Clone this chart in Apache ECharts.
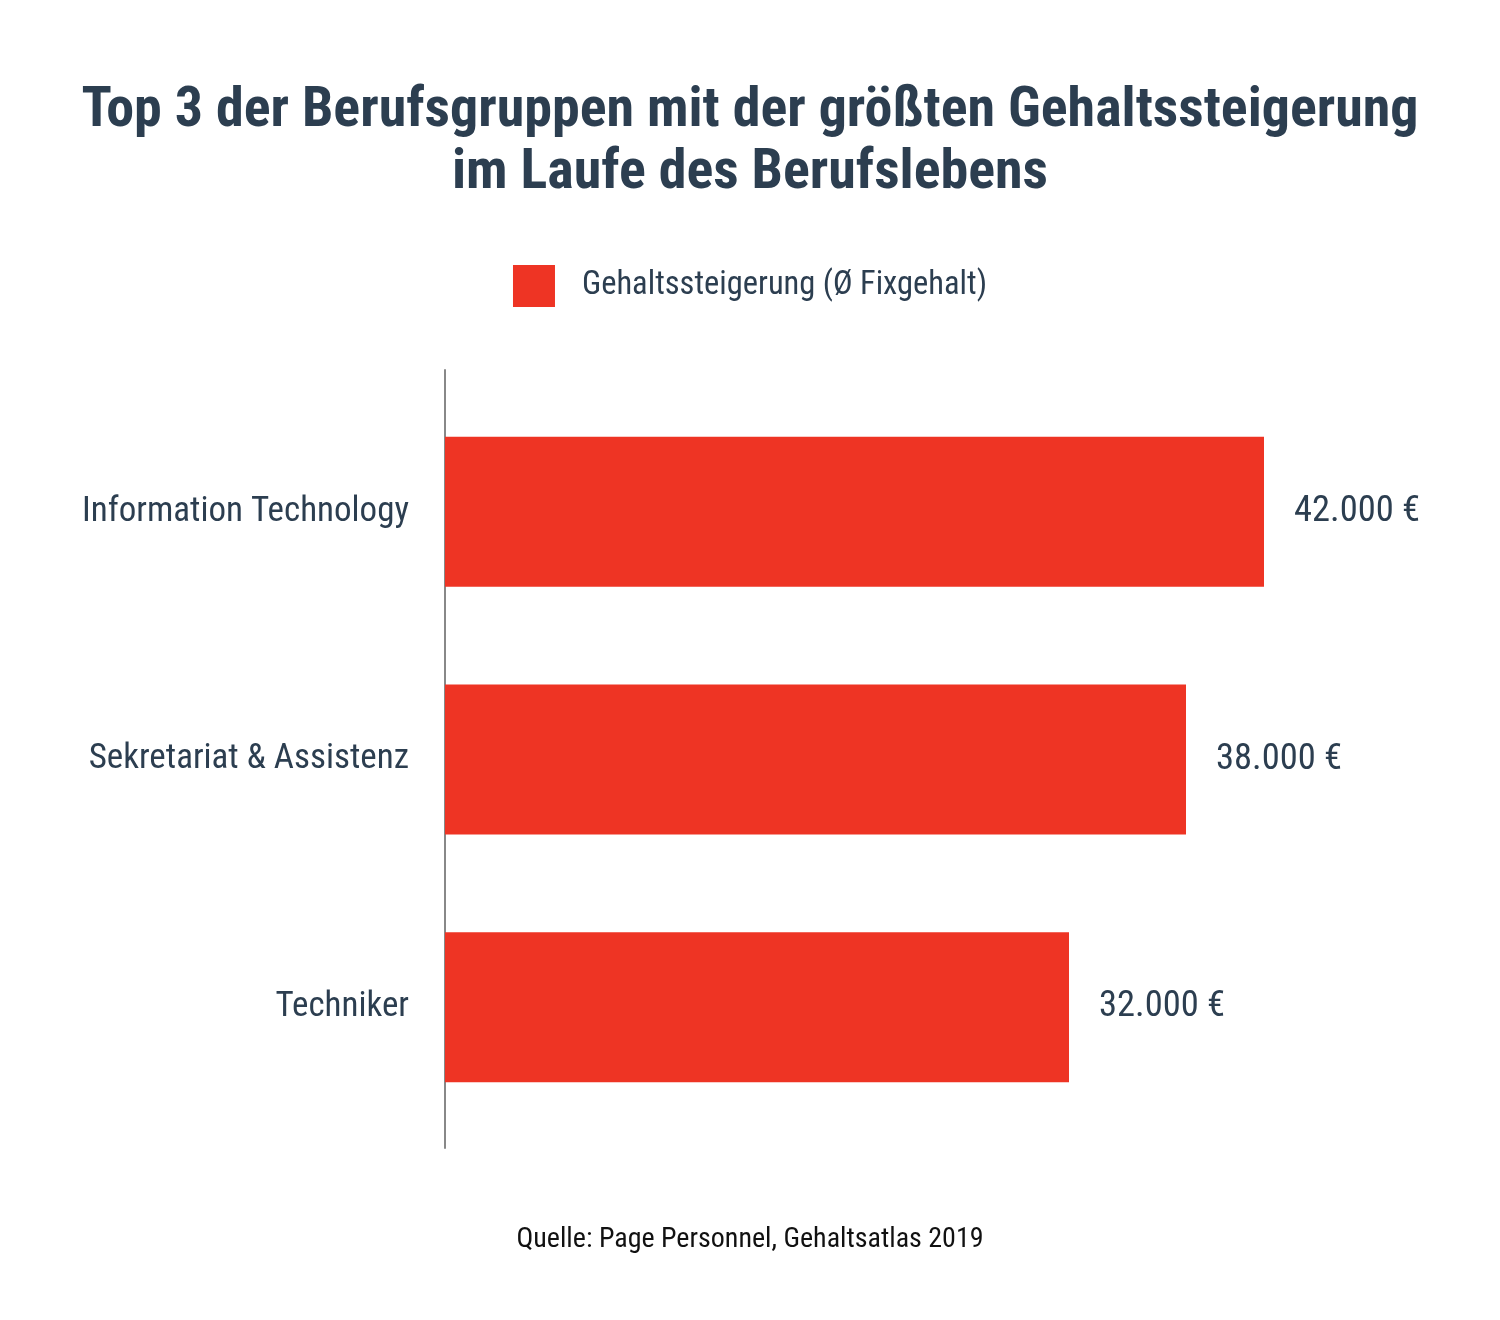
<!DOCTYPE html>
<html><head><meta charset="utf-8">
<script src="https://cdn.jsdelivr.net/npm/echarts@6/dist/echarts.min.js"></script>
<style>html,body{margin:0;padding:0;background:#fff}#c{width:1500px;height:1320px}</style>
</head><body><div id="c"></div>
<script>
const categories = ['Information Technology', 'Sekretariat & Assistenz', 'Techniker'];
const values = [42000, 38000, 32000];
const seriesName = 'Gehaltssteigerung (Ø Fixgehalt)';
const titleText = 'Top 3 der Berufsgruppen mit der größten Gehaltssteigerung\nim Laufe des Berufslebens';
const sourceText = 'Quelle: Page Personnel, Gehaltsatlas 2019';

const FONT = '"Liberation Sans Narrow", "Roboto Condensed", Roboto, sans-serif';
const DARK = '#2c3e50';
const RED = '#ee3424';

const chart = echarts.init(document.getElementById('c'), null, {renderer: 'canvas'});
chart.setOption({
  backgroundColor: '#fff',
  animation: false,
  title: [{
    text: titleText, left: 'center', top: 76,
    textStyle: {fontFamily: FONT, fontWeight: 'bold', fontSize: 56, lineHeight: 62, color: DARK}
  }, {
    text: sourceText, left: 'center', top: 1221,
    textStyle: {fontFamily: FONT, fontWeight: 'normal', fontSize: 28, color: '#111'}
  }],
  legend: {
    data: [seriesName], left: 'center', top: 260, itemWidth: 42, itemHeight: 42, itemGap: 20,
    icon: 'rect',
    textStyle: {fontFamily: FONT, fontSize: 32.5, color: DARK, padding: [0, 0, 0, 22]}
  },
  grid: [
    {left: 445, right: 80, top: 388, bottom: 189, containLabel: false},
    {left: 445, right: 80, top: 370, bottom: 172, containLabel: false}
  ],
  xAxis: [
    {gridIndex: 0, type: 'value', min: 0, max: 50000, show: false},
    {gridIndex: 1, type: 'value', min: 0, max: 50000, show: false}
  ],
  yAxis: [
    {gridIndex: 0, type: 'category', data: categories, inverse: true,
     axisLine: {show: false}, axisTick: {show: false},
     axisLabel: {margin: 36, fontFamily: FONT, fontSize: 35, color: DARK}},
    {gridIndex: 1, type: 'category', data: categories, inverse: true,
     axisLine: {show: true, lineStyle: {color: '#888', width: 2}}, axisTick: {show: false},
     axisLabel: {show: false}}
  ],
  series: [{
    name: seriesName, type: 'bar', xAxisIndex: 0, yAxisIndex: 0,
    data: values, barWidth: 150,
    itemStyle: {color: RED},
    label: {
      show: true, position: 'right', distance: 30,
      fontFamily: FONT, fontSize: 36.5, color: DARK,
      formatter: p => p.value.toLocaleString('de-DE') + ' €'
    }
  }]
});
</script></body></html>
